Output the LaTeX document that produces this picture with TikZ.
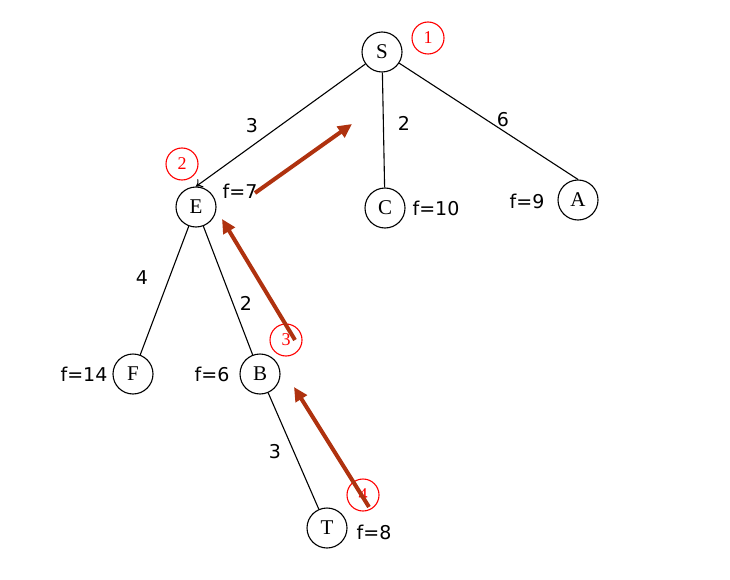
\documentclass[tikz,border=0pt]{standalone}
\usepackage{fontspec}
\setmainfont{Liberation Serif}
\newfontfamily\labfont{DejaVu Sans}
\usetikzlibrary{arrows.meta}
\definecolor{brn}{RGB}{175,50,15}
\tikzset{
  vtx/.style={draw, circle, minimum size=40pt, inner sep=0pt, line width=1.1pt, font=\fontsize{21}{21}\selectfont},
  ord/.style={draw=red, text=red, circle, minimum size=32pt, inner sep=0pt, line width=1.1pt, font=\fontsize{18}{18}\selectfont},
  lab/.style={font=\labfont\fontsize{19}{19}\selectfont, inner sep=0pt},
  edge/.style={line width=1.1pt},
  back/.style={draw=brn, line width=4pt, -{Triangle[length=14pt,width=13pt]}}
}
\begin{document}
\begin{tikzpicture}[x=1pt,y=-1pt]
\useasboundingbox (0,0) rectangle (730,580);
\node[vtx] (S) at (382,52) {S};
\node[vtx] (E) at (196,207) {E};
\node[vtx] (C) at (385,208) {C};
\node[vtx] (A) at (578,200) {A};
\node[vtx] (F) at (133,374) {F};
\node[vtx] (B) at (260,374) {B};
\node[vtx] (T) at (327,528) {T};
\node[ord] (o1) at (428,38) {1};
\node[ord] (o2) at (182,164) {2};
\node[ord] (o3) at (286,340) {3};
\node[ord] (o4) at (363,495) {4};
\node[lab] (w1) at (252,126) {3};
\node[lab] (w2) at (404,123) {2};
\node[lab] (w3) at (503,120) {6};
\node[lab] (w4) at (142,278) {4};
\node[lab] (w5) at (246,303) {2};
\node[lab] (w6) at (275,452) {3};
\node[lab] (fE) at (240,191) {f=7};
\node[lab] (fC) at (436,208) {f=10};
\node[lab] (fA) at (527,201) {f=9};
\node[lab] (fF) at (84,374) {f=14};
\node[lab] (fB) at (212,374) {f=6};
\node[lab] (fT) at (374,532) {f=8};
\draw[edge, -{To[length=6pt,width=10pt]}] (S) -- (E.north);
\draw[edge] (S) -- (C);
\draw[edge] (S) -- (A.north);
\draw[edge] (E) -- (F);
\draw[edge] (E) -- (B);
\draw[edge] (B) -- (T);
\coordinate (a1s) at (255,193);
\coordinate (a1e) at (352,124);
\coordinate (a2s) at (295,340);
\coordinate (a2e) at (222,219);
\coordinate (a3s) at (369,507);
\coordinate (a3e) at (294,387);
\draw[back] (a1s) -- (a1e);
\draw[back] (a2s) -- (a2e);
\draw[back] (a3s) -- (a3e);
\end{tikzpicture}
\end{document}
